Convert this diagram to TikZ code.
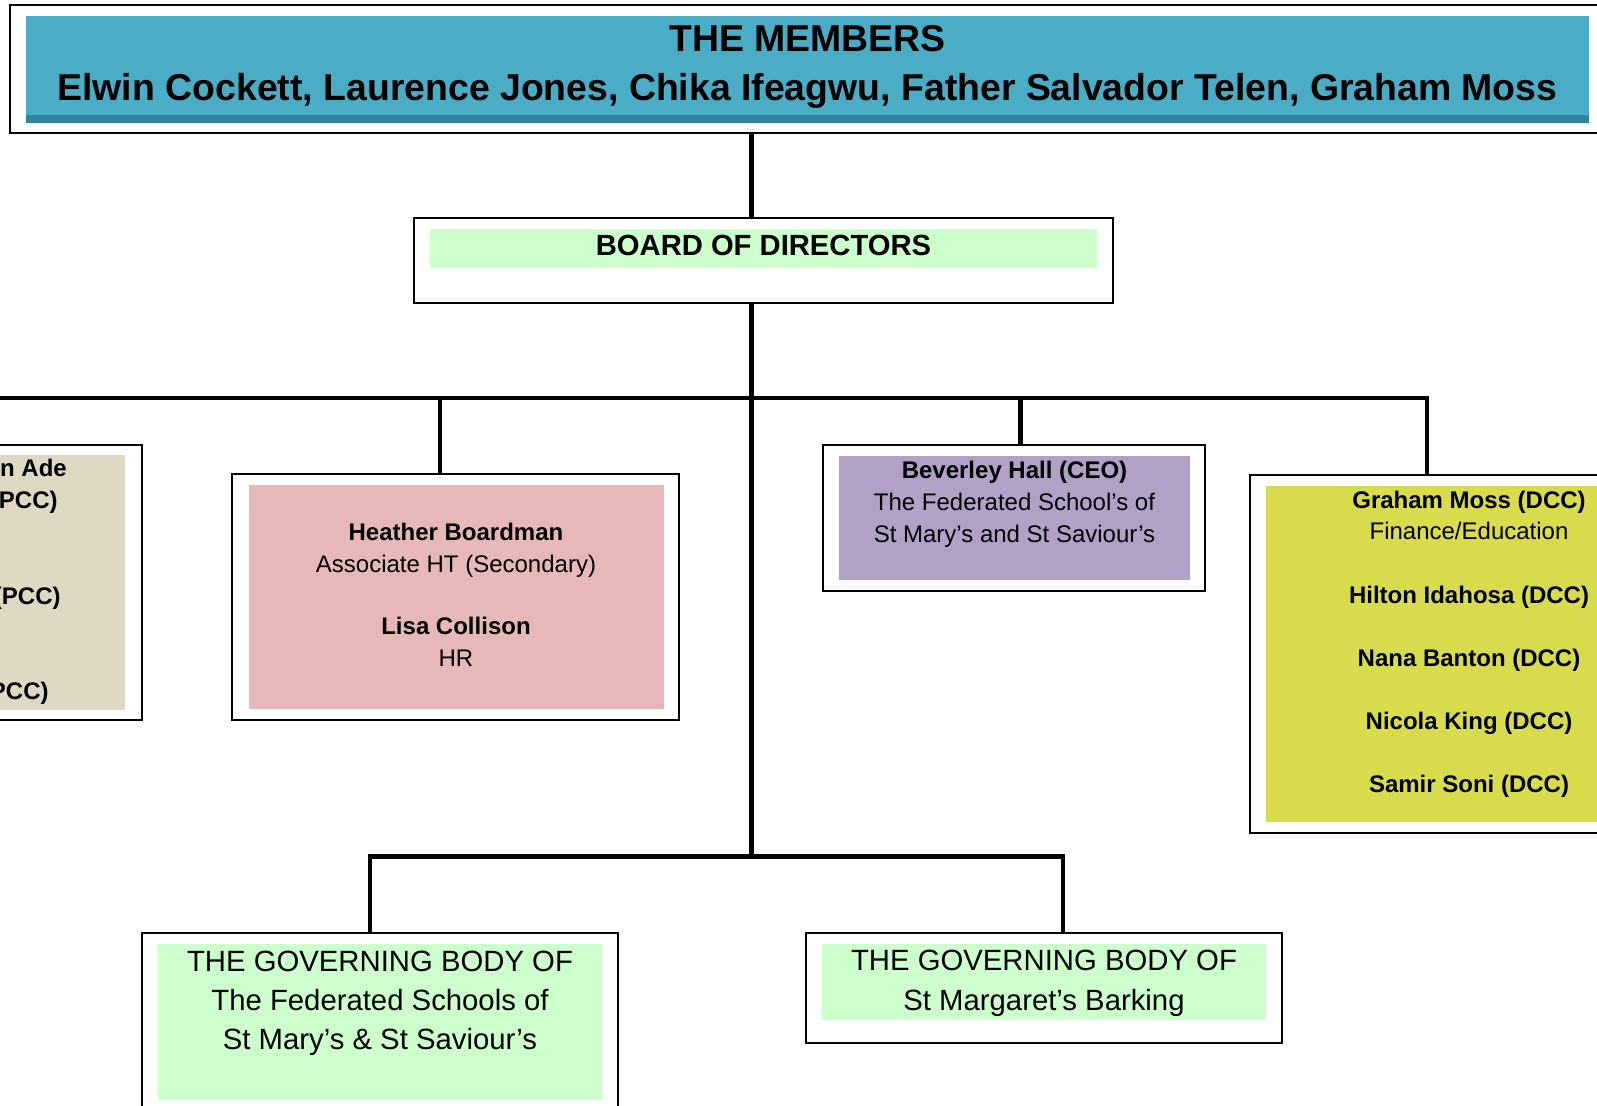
\documentclass[tikz,border=0pt]{standalone}
\usepackage{fontspec}
\setmainfont{Liberation Sans}
\usepackage{xcolor}
\usetikzlibrary{positioning, calc, fit}

\definecolor{memberteal}{RGB}{75,172,198}
\definecolor{memberband}{RGB}{49,132,155}
\definecolor{mint}{RGB}{204,255,204}
\definecolor{parchment}{RGB}{221,217,195}
\definecolor{rose}{RGB}{230,185,184}
\definecolor{lilac}{RGB}{178,161,199}
\definecolor{lime}{RGB}{216,220,76}

\begin{document}
\begin{tikzpicture}[x=0.5pt, y=-0.5pt,
    frame/.style={draw, line width=1pt, fill=white, inner sep=0pt},
    panel/.style={inner sep=0pt},
    conn/.style={line width=2.3pt},
    txt/.style={anchor=base, align=center, inner sep=0pt, font=\fontsize{12}{16}\selectfont}]
        \useasboundingbox (0,0) rectangle (1597,1106);
        % members (text nodes are set by the baseline of their last line)
        \node[frame, fit={(10,5) (1606,133)}] (members) {};
        \node[panel, fill=memberteal, fit={(26,16) (1589,115)}] (membersfill) {};
        \node[panel, fill=memberband, fit={(26,115) (1589,123)}] (membersband) {};
        \node[txt, font=\fontsize{18.7}{24.5}\selectfont\bfseries] (memberstxt) at (807.5,100.5)
            {THE MEMBERS\\Elwin Cockett, Laurence Jones, Chika Ifeagwu, Father Salvador Telen, Graham Moss};
        % board
        \node[frame, fit={(413.5,218) (1113,303.5)}] (board) {};
        \node[panel, fill=mint, fit={(430,229) (1097,268)}] (boardfill) {};
        \node[txt, font=\fontsize{14.6}{18}\selectfont\bfseries] (boardtxt) at (763.5,255.5) {BOARD OF DIRECTORS};
        % directors
        \node[frame, fit={(-300,445) (141.6,720)}] (pcc) {};
        \node[panel, fill=parchment, fit={(-300,455) (125.3,710)}] (pccfill) {};
        \node[txt, anchor=base east, font=\fontsize{12}{16}\selectfont\bfseries] (pccA) at (67.2,477) {n Ade};
        \node[txt, anchor=base east, font=\fontsize{12}{16}\selectfont\bfseries] (pccB) at (58,508.6) {(PCC)};
        \node[txt, anchor=base east, font=\fontsize{12}{16}\selectfont\bfseries] (pccC) at (61,604.6) {(PCC)};
        \node[txt, anchor=base east, font=\fontsize{12}{16}\selectfont\bfseries] (pccD) at (49,700) {PCC)};

        \node[frame, fit={(232,473.6) (679,720)}] (heather) {};
        \node[panel, fill=rose, fit={(248.5,485) (664,709)}] (heatherfill) {};
        \node[txt] (heathertxt) at (456,666.4)
            {\textbf{Heather Boardman}\\Associate HT (Secondary)\\[14.8pt]\textbf{Lisa Collison}\\HR};

        \node[frame, fit={(823,445) (1205,591)}] (beverley) {};
        \node[panel, fill=lilac, fit={(839,456) (1190,580.5)}] (beverleyfill) {};
        \node[txt] (beverleytxt) at (1014.5,542.6)
            {\textbf{Beverley Hall (CEO)}\\The Federated School’s of\\St Mary’s and St Saviour’s};

        \node[frame, fit={(1249.7,474.6) (1700,833)}] (graham) {};
        \node[panel, fill=lime, fit={(1266,486) (1672,822)}] (grahamfill) {};
        \node[txt, font=\fontsize{12}{15.85}\selectfont] (grahamtxt) at (1469,792.6)
            {\textbf{Graham Moss (DCC)}\\Finance/Education\\[15.75pt]\textbf{Hilton Idahosa (DCC)}\\[15.75pt]%
             \textbf{Nana Banton (DCC)}\\[15.75pt]\textbf{Nicola King (DCC)}\\[15.75pt]\textbf{Samir Soni (DCC)}};
        % governing bodies
        \node[frame, fit={(141.6,933) (618,1130)}] (govA) {};
        \node[panel, fill=mint, fit={(158,944) (602,1100)}] (govAfill) {};
        \node[txt, font=\fontsize{14.65}{19.65}\selectfont] (govAtxt) at (380,1049.6)
            {THE GOVERNING BODY OF\\The Federated Schools of\\St Mary’s \& St Saviour’s};

        \node[frame, fit={(805.6,933) (1282,1043)}] (govB) {};
        \node[panel, fill=mint, fit={(822,944) (1266,1019.5)}] (govBfill) {};
        \node[txt, font=\fontsize{14.65}{19.65}\selectfont] (govBtxt) at (1044,1010.3)
            {THE GOVERNING BODY OF\\St Margaret’s Barking};
        % connectors
        \coordinate (trunk) at (751.6,398);
        \coordinate (busleft) at (-20,398);
        \coordinate (heathertap) at (440,398);
        \coordinate (beverleytap) at (1020.5,398);
        \coordinate (grahamtap) at (1427,398);
        \coordinate (lowbus) at (751.6,856.5);
        \coordinate (govAtap) at (370,856.5);
        \coordinate (govBtap) at (1063,856.5);

        \draw[conn] (members.south -| trunk) -- (board.north -| trunk);
        \draw[conn] (board.south -| trunk) -- (lowbus);
        \draw[conn] (busleft) -- (grahamtap) -- (grahamtap |- graham.north);
        \draw[conn] (heathertap) -- (heathertap |- heather.north);
        \draw[conn] (beverleytap) -- (beverleytap |- beverley.north);
        \draw[conn] (govAtap |- govA.north) -- (govAtap) -- (govBtap) -- (govBtap |- govB.north);
      \end{tikzpicture}
\end{document}
